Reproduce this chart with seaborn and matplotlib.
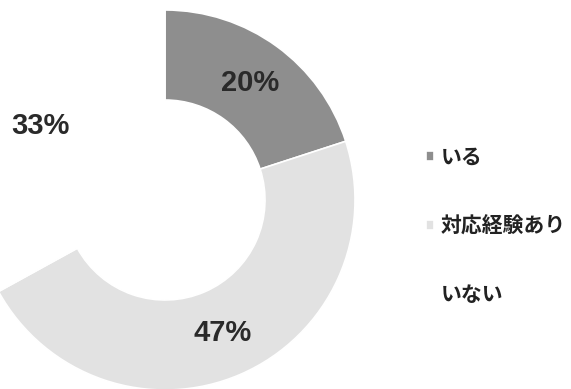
import matplotlib
matplotlib.use("Agg")
import matplotlib.pyplot as plt
import numpy as np
import seaborn as sns

# Survey breakdown
categories = ["いる", "対応経験あり", "いない"]
shares = [20, 47, 33]
pct_labels = ["20%", "47%", "33%"]
colors = ["#8e8e8e", "#e2e2e2", "#ffffff"]

sns.set_theme(style="white")
plt.rcParams["font.family"] = ["Noto Sans CJK JP", "DejaVu Sans"]

W, H = 571, 389
fig = plt.figure(figsize=(W / 100, H / 100), dpi=100)
ax = fig.add_axes([0, 0, 1, 1])

cx, cy = 165, H - 200
r_out, r_in = 190, 100

wedges, _ = ax.pie(
    shares,
    colors=colors,
    radius=r_out,
    center=(cx, cy),
    startangle=90,
    counterclock=False,
    wedgeprops=dict(width=r_out - r_in, edgecolor="white", linewidth=1.2),
    frame=True,
)
ax.set_xlim(0, W)
ax.set_ylim(0, H)
ax.set_aspect("equal")
ax.axis("off")

# Percentage labels at the middle of the ring
r_mid = (r_out + r_in) / 2
start = 90.0
for val, lab in zip(shares, pct_labels):
    mid = start - val * 360 / 100 / 2
    start -= val * 360 / 100
    x = cx + r_mid * np.cos(np.radians(mid))
    y = cy + r_mid * np.sin(np.radians(mid))
    ax.text(x, y, lab, ha="center", va="center", fontsize=21,
            family=["Liberation Sans", "DejaVu Sans"],
            fontweight="bold", color="#2a2a2a")

leg = ax.legend(
    wedges, categories,
    loc="upper left", bbox_to_anchor=(416 / W, 1 - 136 / H),
    frameon=False, handlelength=0.35, handleheight=0.35,
    handletextpad=0.35, labelspacing=2.3, borderpad=0,
    prop={"family": ["Noto Sans CJK JP", "DejaVu Sans"], "weight": "bold", "size": 15},
)
for t in leg.get_texts():
    t.set_color("#222222")

fig.savefig("out.png", dpi=100)
